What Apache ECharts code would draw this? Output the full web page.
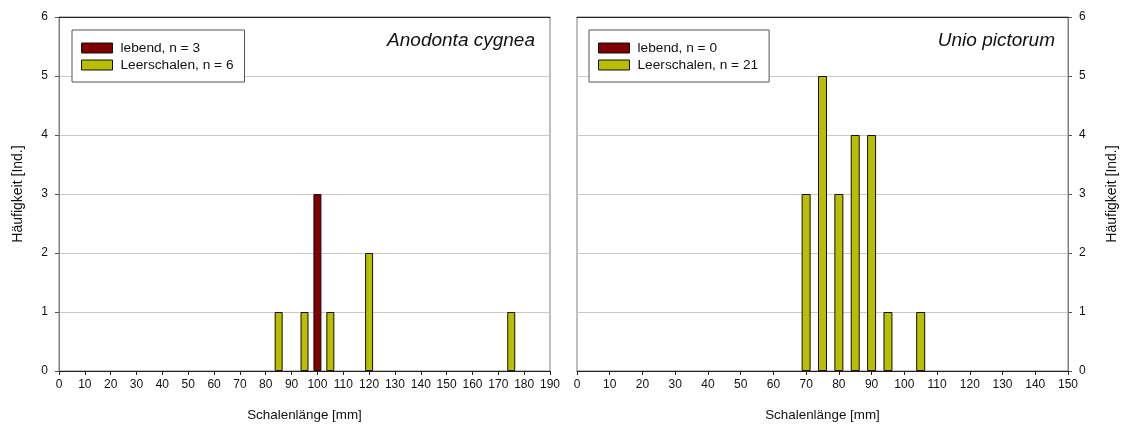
<!DOCTYPE html>
<html><head><meta charset="utf-8">
<script src="https://cdn.jsdelivr.net/npm/echarts@6/dist/echarts.min.js"></script>
<style>html,body{margin:0;padding:0;background:#fff}#c{width:1129px;height:430px}</style>
</head><body><div id="c"></div>
<script>
// Left panel: Anodonta cygnea
const leftTitle = 'Anodonta cygnea';
const leftLebend = [[100, 3]];
const leftLeer = [[85, 1], [95, 1], [105, 1], [120, 2], [175, 1]];
const leftLegend = ['lebend, n = 3', 'Leerschalen, n = 6'];
// Right panel: Unio pictorum
const rightTitle = 'Unio pictorum';
const rightLebend = [];
const rightLeer = [[70, 3], [75, 5], [80, 3], [85, 4], [90, 4], [95, 1], [105, 1]];
const rightLegend = ['lebend, n = 0', 'Leerschalen, n = 21'];
const xName = 'Schalenlänge [mm]';
const yName = 'Häufigkeit [Ind.]';

const F = 'Liberation Sans, Arial, sans-serif';
const RED = '#800000', YEL = '#B9BF00';
const chart = echarts.init(document.getElementById('c'), null, {renderer: 'canvas'});

function xAxis(gi, max) {
  return {type: 'value', gridIndex: gi, min: 0, max: max, interval: 10,
    name: xName, nameLocation: 'middle', nameGap: 38,
    nameTextStyle: {fontFamily: F, fontSize: 13.4, color: '#111'},
    axisLine: {show: true, onZero: false, lineStyle: {color: '#222', width: 1}},
    axisTick: {show: true, length: 4, lineStyle: {color: '#222'}},
    axisLabel: {fontFamily: F, fontSize: 12, color: '#111', margin: 8},
    splitLine: {show: false}};
}
function topAxis(gi, max) {
  return {type: 'value', gridIndex: gi, position: 'top', min: 0, max: max,
    axisLine: {show: true, onZero: false, lineStyle: {color: '#222', width: 1}},
    axisTick: {show: false}, axisLabel: {show: false}, splitLine: {show: false}};
}
function yAxis(gi, pos, gap) {
  return {type: 'value', gridIndex: gi, position: pos, min: 0, max: 6, interval: 1,
    name: yName, nameLocation: 'middle', nameGap: gap, nameRotate: 90,
    nameTextStyle: {fontFamily: F, fontSize: 14, color: '#111'},
    axisLine: {show: true, onZero: false, lineStyle: {color: '#808080', width: 1}},
    axisTick: {show: true, length: 4, lineStyle: {color: '#555'}},
    axisLabel: {fontFamily: F, fontSize: 12, color: '#111', margin: 11},
    splitLine: {show: true, lineStyle: {color: '#c8c8c8', width: 1}}};
}
function bars(name, data, xi, yi, color, w) {
  return {type: 'bar', name: name, data: data, xAxisIndex: xi, yAxisIndex: yi,
    barWidth: w, barGap: '-100%',
    itemStyle: {color: color, borderColor: '#111', borderWidth: 1}};
}
function legend(names, left) {
  return {data: names, orient: 'vertical', left: left, top: 30,
    icon: 'rect', itemWidth: 31, itemHeight: 10, itemGap: 1,
    padding: [10, 11, 9, 9], backgroundColor: '#fff',
    borderColor: '#555', borderWidth: 1,
    itemStyle: {borderColor: '#111', borderWidth: 1},
    textStyle: {fontFamily: F, fontSize: 13.7, lineHeight: 16, color: '#111', padding: [0, 0, 0, 3]}};
}

chart.setOption({
  animation: false,
  backgroundColor: '#fff',
  grid: [
    {left: 59, right: 579, top: 17, bottom: 59, show: true, borderColor: '#808080', borderWidth: 1},
    {left: 577, right: 61, top: 17, bottom: 59, show: true, borderColor: '#808080', borderWidth: 1}
  ],
  title: [
    {text: leftTitle, right: 1129 - 535, top: 31, padding: 0, textStyle: {fontFamily: F, fontSize: 19, fontStyle: 'italic', fontWeight: 'normal', color: '#111'}},
    {text: rightTitle, right: 1129 - 1055, top: 31, padding: 0, textStyle: {fontFamily: F, fontSize: 19, fontStyle: 'italic', fontWeight: 'normal', color: '#111'}}
  ],
  legend: [legend(leftLegend, 72), legend(rightLegend, 589)],
  xAxis: [xAxis(0, 190), xAxis(1, 150), topAxis(0, 190), topAxis(1, 150)],
  yAxis: [yAxis(0, 'left', 34), yAxis(1, 'right', 37)],
  series: [
    bars(leftLegend[0], leftLebend, 0, 0, RED, 8),
    bars(leftLegend[1], leftLeer, 0, 0, YEL, 8),
    bars(rightLegend[0], rightLebend, 1, 1, RED, 9),
    bars(rightLegend[1], rightLeer, 1, 1, YEL, 9)
  ]
});
</script></body></html>
